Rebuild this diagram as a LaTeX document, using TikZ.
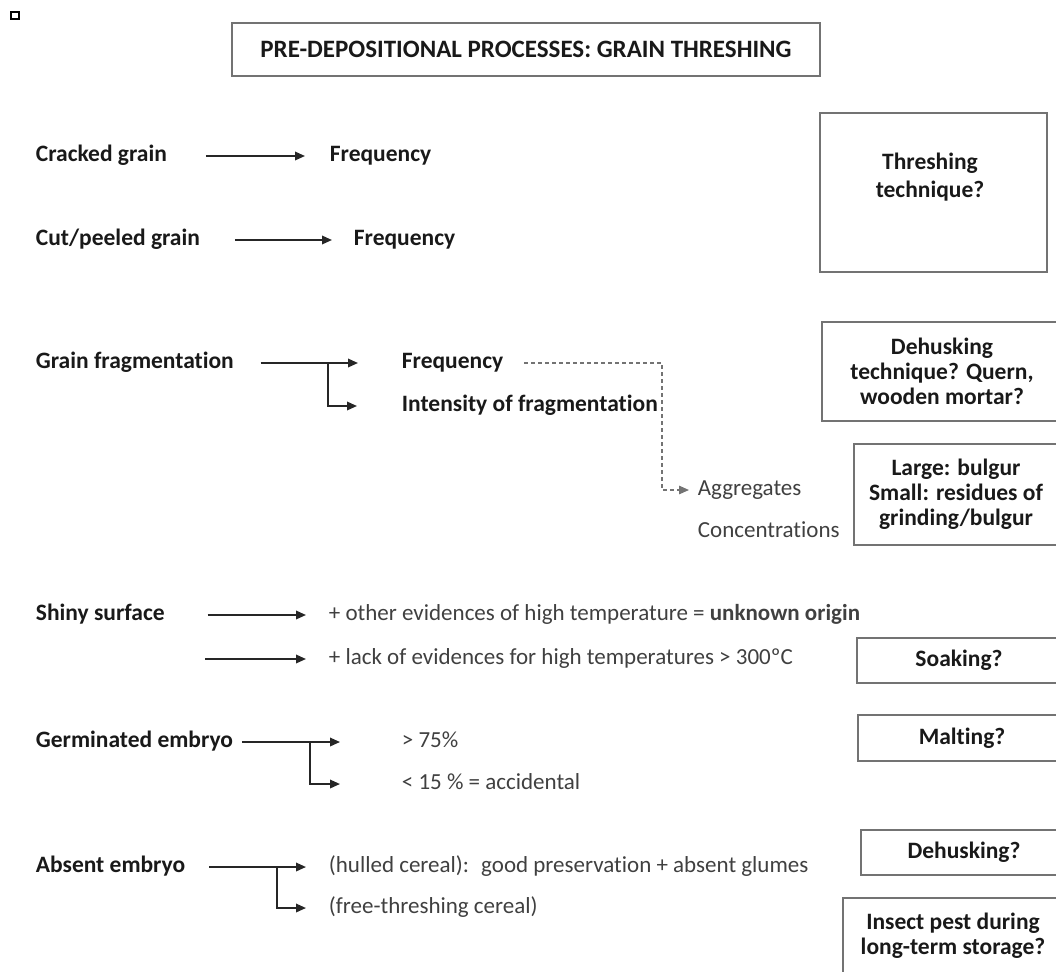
\documentclass[tikz,border=0pt]{standalone}
\usepackage{fontspec}
\setmainfont{Carlito}[Ligatures=NoCommon]
\usetikzlibrary{arrows.meta}

\begin{document}
\begin{tikzpicture}[x=1pt,y=-1pt,line width=1.8pt,>={Triangle[length=10pt,width=8.5pt]},
  lbl/.style={anchor=west,inner sep=0pt,text height=10pt,text depth=0pt,
    font=\fontsize{23.5}{25}\selectfont\bfseries,text=black!90},
  plain/.style={lbl,font=\fontsize{23}{25}\selectfont,text=black!75},
  box/.style={draw=black!55,line width=1.5pt,inner sep=0pt,align=center,
    font=\fontsize{23.5}{25}\selectfont\bfseries,text=black!90},
  arr/.style={->,draw=black!85},
  dashlink/.style={->,draw=black!55,line width=1.4pt,dash pattern=on 4pt off 3pt}]
\useasboundingbox (0,0) rectangle (1056,971);
\clip (0,0) rectangle (1056,971);
% corner mark
\draw[line width=1.5pt] (11,12) rectangle (19,19);
% title
\node[box,minimum width=588pt,minimum height=53pt,font=\fontsize{25}{27}\selectfont\bfseries]
  (title) at (526,49.5) {PRE-DEPOSITIONAL PROCESSES: GRAIN THRESHING};
% cracked / cut grain
\node[lbl] (crack) at (35,156) {Cracked grain};
\node[lbl] (crackF) at (329,156) {Frequency};
\draw[arr,shorten <=38pt,shorten >=24pt] (crack) -- (crackF);
\node[lbl] (cut) at (35,240) {Cut/peeled grain};
\node[lbl] (cutF) at (353,240) {Frequency};
\draw[arr,shorten <=34pt,shorten >=21pt] (cut) -- (cutF);
\node[box,minimum width=227pt,minimum height=159pt] (thresh) at (933.5,192.5) {};
\node[box,draw=none,font=\fontsize{23.5}{28}\selectfont\bfseries] (threshT) at (930,177)
  {Threshing\\technique?};
% grain fragmentation
\node[lbl] (frag) at (35,363) {Grain fragmentation};
\node[lbl] (fragF) at (401,363) {Frequency};
\node[lbl] (intens) at (401,406) {Intensity of fragmentation};
\coordinate (fragBr) at (328,363);
\draw[arr,shorten <=26pt,shorten >=43pt] (frag) -- (fragF);
\draw[arr,shorten >=44pt] (fragBr) |- (intens);
\node[plain] (aggr) at (697,490) {Aggregates};
\node[plain] (conc) at (697,532) {Concentrations};
\coordinate (dashTurn) at (662,490);
\draw[dashlink,shorten <=20pt,shorten >=8pt] (fragF) -| (dashTurn) |- (aggr);
\node[box,minimum width=240pt,minimum height=99pt] (quern) at (942,371.5)
  {Dehusking\\technique? Quern,\\wooden mortar?};
\node[box,minimum width=204pt,minimum height=101pt] (bulgur) at (956,494.5)
  {Large: bulgur\\Small: residues of\\grinding/bulgur};
% shiny surface
\node[lbl] (shiny) at (35,615) {Shiny surface};
\node[plain] (hot) at (328,615)
  {+ other evidences of high temperature = \textbf{unknown origin}};
\draw[arr,shorten <=42pt,shorten >=22pt] (shiny) -- (hot);
\coordinate (lackTail) at (205,659);
\node[plain] (lack) at (328,659) {+ lack of evidences for high temperatures > 300ºC};
\draw[arr,shorten >=22pt] (lackTail) -- (lack);
\node[box,minimum width=204pt,minimum height=45pt] (soak) at (959,660.5) {Soaking?};
% germinated embryo
\node[lbl] (germ) at (35,742) {Germinated embryo};
\node[plain] (g75) at (401,742) {> 75\%};
\node[plain] (g15) at (401,784) {< 15 \% = accidental};
\coordinate (germBr) at (310,742);
\draw[arr,shorten <=8pt,shorten >=61pt] (germ) -- (g75);
\draw[arr,shorten >=61pt] (germBr) |- (g15);
\node[box,minimum width=208pt,minimum height=46pt] (malt) at (962,738) {Malting?};
% absent embryo
\node[lbl] (absent) at (35,867) {Absent embryo};
\node[plain] (hulled) at (328,867) {(hulled cereal):~ good preservation + absent glumes};
\node[plain] (free) at (328,908) {(free-threshing cereal)};
\coordinate (absentBr) at (277,867);
\draw[arr,shorten <=23pt,shorten >=22pt] (absent) -- (hulled);
\draw[arr,shorten >=22pt] (absentBr) |- (free);
\node[box,minimum width=206pt,minimum height=45pt] (dehusk) at (964,852.5) {Dehusking?};
\node[box,minimum width=220pt,minimum height=76pt] (insect) at (953,936)
  {Insect pest during\\long-term storage?};
\end{tikzpicture}
\end{document}
